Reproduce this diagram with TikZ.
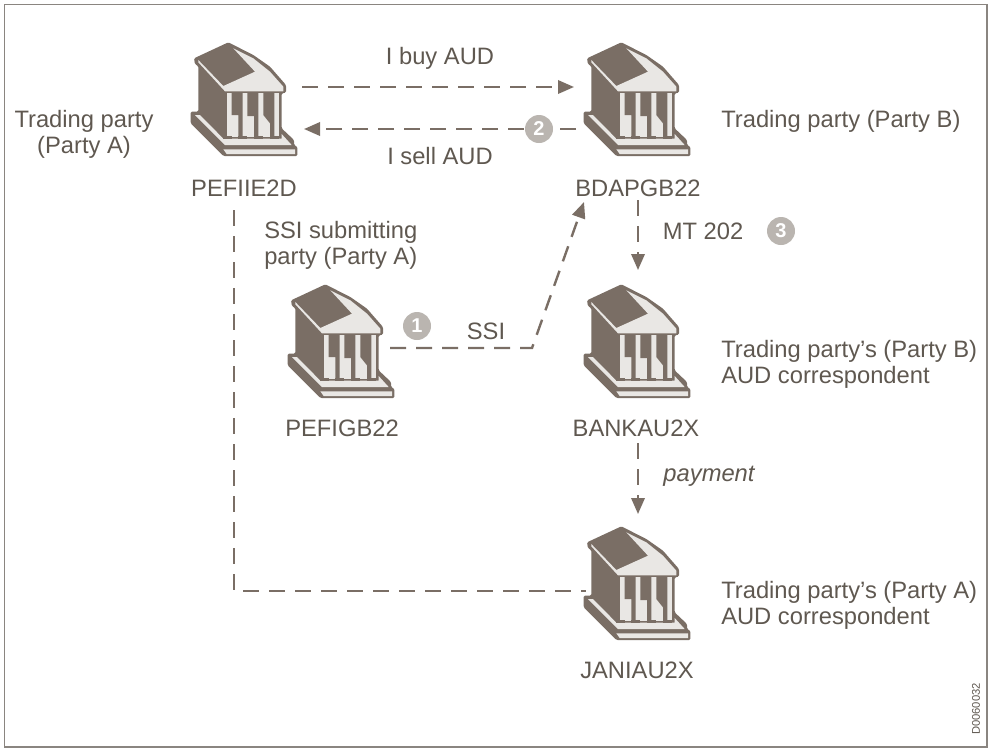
\documentclass[tikz,border=0pt]{standalone}
\usepackage{fontspec}
\setmainfont{Liberation Sans}
\usetikzlibrary{arrows.meta}
\definecolor{brn}{HTML}{7A6E65}
\definecolor{lite}{HTML}{E9E7E4}
\definecolor{circ}{HTML}{BAB5B0}
\definecolor{txt}{HTML}{5F5850}
\definecolor{frm}{HTML}{8A8580}
\tikzset{
  x=0.75pt,y=-0.75pt,
  lbl/.style={font=\fontsize{17.8}{19.5}\selectfont,text=txt,inner sep=0pt,align=left},
  clbl/.style={font=\fontsize{17.8}{19.5}\selectfont,text=txt,inner sep=0pt,align=center},
  conn/.style={draw=brn,line width=1.8pt,dash pattern=on 12pt off 7.5pt,-{Triangle[length=12pt,width=10pt]}},
  connp/.style={draw=brn,line width=1.8pt,dash pattern=on 12pt off 7.5pt},
  num/.style={circle,fill=circ,text=white,inner sep=0pt,minimum size=21pt,font=\fontsize{15}{15}\bfseries\selectfont},
  iconbox/.style={inner sep=0pt,minimum width=1pt,minimum height=1pt}
}
\newcommand{\bankicon}[2]{%
\begin{scope}[shift={(#1,#2)},x=0.25pt,y=-0.25pt]
\fill[brn,rounded corners=1pt] (175,37)--(72,85)--(75,103)--(85,108)--(85,245)--(62,245)--(62,280)--(160,378)--(382,378)--(382,350)--(372,345)--(372,330)--(335,295)--(335,190)--(348,188)--(348,165)--(300,110)--(250,75)--cycle;
\fill[lite] (190,55)--(250,85)--(300,125)--(340,170)--(340,184)--(165,184)--(85,97)--(85,90)--(160,168)--(255,125)--cycle;
\fill[lite] (172,190) rectangle (327,320);
\fill[brn] (185,186)--(218,186)--(218,320)--(205,320)--(205,255)--(185,255)--cycle;
\fill[brn] (232,186)--(265,186)--(265,320)--(252,320)--(252,258)--(232,258)--cycle;
\fill[brn] (280,186)--(313,186)--(313,320)--(300,320)--(300,280)--(280,255)--cycle;
\fill[lite] (75,255)--(165,345)--(365,345)--(335,312)--(335,326)--(160,326)--(90,255)--cycle;
\fill[lite] (160,358)--(375,358)--(375,372)--(170,372)--cycle;
\fill[brn] (160,318) rectangle (185,327);
\fill[brn] (205,318) rectangle (232,327);
\fill[brn] (252,318) rectangle (280,327);
\fill[brn] (300,318) rectangle (327,327);
\end{scope}}
\begin{document}
\begin{tikzpicture}
\useasboundingbox (0,0) rectangle (991,751);
\draw[frm,line width=1pt] (4.5,4.5) rectangle (987,747);
\bankicon{170}{30}
\bankicon{563}{30}
\bankicon{267}{272}
\bankicon{563}{272}
\bankicon{563}{514}
\node[iconbox] (a) at (238,95) {};
\node[iconbox] (b) at (632,95) {};
\node[iconbox] (s) at (335,338) {};
\node[iconbox] (c) at (632,338) {};
\node[iconbox] (d) at (632,580) {};
\coordinate (ab1) at (302,87);
\coordinate (ab2) at (574,87);
\coordinate (ba1) at (576,129);
\coordinate (ba2) at (304,129);
\coordinate (bc1) at (638,200);
\coordinate (bc2) at (638,270);
\coordinate (cd1) at (638,443);
\coordinate (cd2) at (638,514);
\coordinate (s1) at (390,348);
\coordinate (s2) at (532,348);
\coordinate (s3) at (584,202);
\coordinate (a1) at (234,210);
\coordinate (a2) at (234,591);
\coordinate (d1) at (586,591);
\draw[conn] (ab1)--(ab2);
\draw[conn] (ba1)--(ba2);
\draw[conn] (bc1)--(bc2);
\draw[conn] (cd1)--(cd2);
\draw[conn] (s1)--(s2)--(s3);
\draw[connp] (a1)--(a2)--(d1);
\node[num] (n1) at (417,326) {1};
\node[num] (n2) at (539,129) {2};
\node[num] (n3) at (781,231) {3};
\node[clbl] (t1) at (84,134) {Trading party\\(Party A)};
\node[lbl,anchor=west] (t2) at (721,121) {Trading party (Party B)};
\node[clbl] (t3) at (440,58) {I buy AUD};
\node[clbl] (t4) at (440,156) {I sell AUD};
\node[clbl] (t5) at (244,188) {PEFIIE2D};
\node[clbl] (t6) at (638,188) {BDAPGB22};
\node[lbl,anchor=west] (t7) at (264,245) {SSI submitting\\party (Party A)};
\node[clbl] (t8) at (703,231) {MT 202};
\node[clbl] (t9) at (486,331) {SSI};
\node[lbl,anchor=west] (t10) at (721,364) {Trading party’s (Party B)\\AUD correspondent};
\node[clbl] (t11) at (342,428) {PEFIGB22};
\node[clbl] (t12) at (636,428) {BANKAU2X};
\node[clbl,font=\fontsize{17.8}{19.5}\itshape\selectfont] (t13) at (709,476) {payment};
\node[lbl,anchor=west] (t14) at (721,605) {Trading party’s (Party A)\\AUD correspondent};
\node[clbl] (t15) at (637,670) {JANIAU2X};
\node[clbl,rotate=90,font=\fontsize{8.4}{10}\selectfont] (t16) at (976,709) {D0060032};
\end{tikzpicture}
\end{document}
